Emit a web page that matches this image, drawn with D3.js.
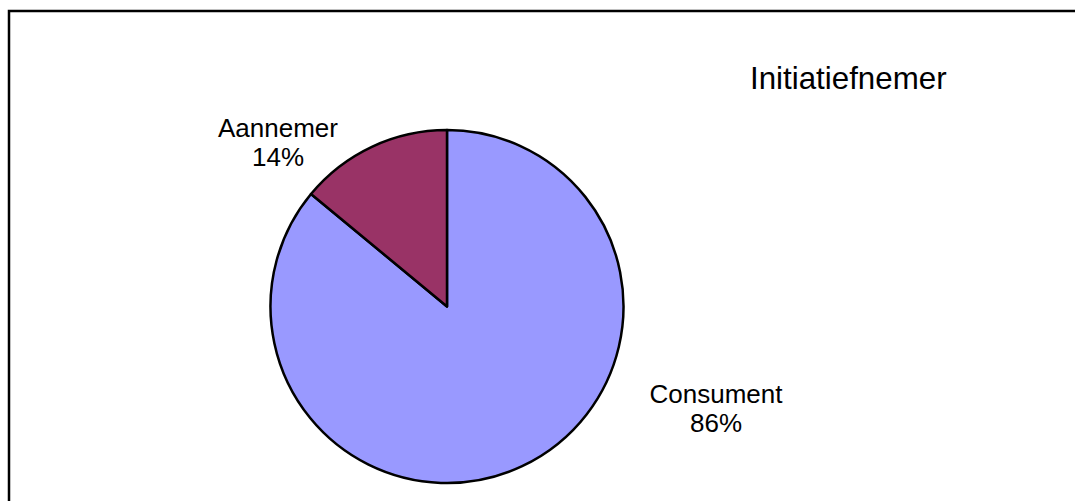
<!DOCTYPE html>
<html>
<head>
<meta charset="utf-8">
<script src="https://cdn.jsdelivr.net/npm/d3@7"></script>
<style>
  html, body { margin: 0; padding: 0; background: #fff; }
  svg { display: block; }
</style>
</head>
<body>
<script>
const categories = ["Consument", "Aannemer"];
const values = [86, 14];
const colors = ["#9999FF", "#993366"];
const title = "Initiatiefnemer";

const W = 1075, H = 501;
const svg = d3.select("body").append("svg").attr("width", W).attr("height", H);

// chart border (extends beyond right and bottom edge)
svg.append("rect")
  .attr("x", 9).attr("y", 11)
  .attr("width", 1100).attr("height", 600)
  .attr("fill", "#fff").attr("stroke", "#000").attr("stroke-width", 2.5);

const cx = 447, cy = 306.5, r = 176.5;
const data = categories.map((c, i) => ({ cat: c, value: values[i], color: colors[i] }));

const pie = d3.pie().value(d => d.value).sort(null);
const arc = d3.arc().innerRadius(0).outerRadius(r);
const arcs = pie(data);

const g = svg.append("g").attr("transform", `translate(${cx},${cy})`);
g.selectAll("path").data(arcs).join("path")
  .attr("d", arc)
  .attr("fill", d => d.data.color)
  .attr("stroke", "#000")
  .attr("stroke-width", 2.5)
  .attr("stroke-linejoin", "round");

// labels
const labelPos = { "Consument": [716, 403], "Aannemer": [278, 137] };
const font = "'Liberation Sans', Arial, sans-serif";
arcs.forEach(a => {
  const [lx, ly] = labelPos[a.data.cat];
  const pct = Math.round((a.endAngle - a.startAngle) / (2 * Math.PI) * 100) + "%";
  const t = svg.append("text")
    .attr("x", lx).attr("y", ly)
    .attr("text-anchor", "middle")
    .attr("font-family", font)
    .attr("font-size", 26)
    .attr("fill", "#000");
  t.append("tspan").attr("x", lx).attr("dy", 0).text(a.data.cat);
  t.append("tspan").attr("x", lx).attr("dy", 29).text(pct);
});

svg.append("text")
  .attr("x", 750).attr("y", 89)
  .attr("font-family", font)
  .attr("font-size", 31.3)
  .attr("fill", "#000")
  .text(title);
</script>
</body>
</html>
